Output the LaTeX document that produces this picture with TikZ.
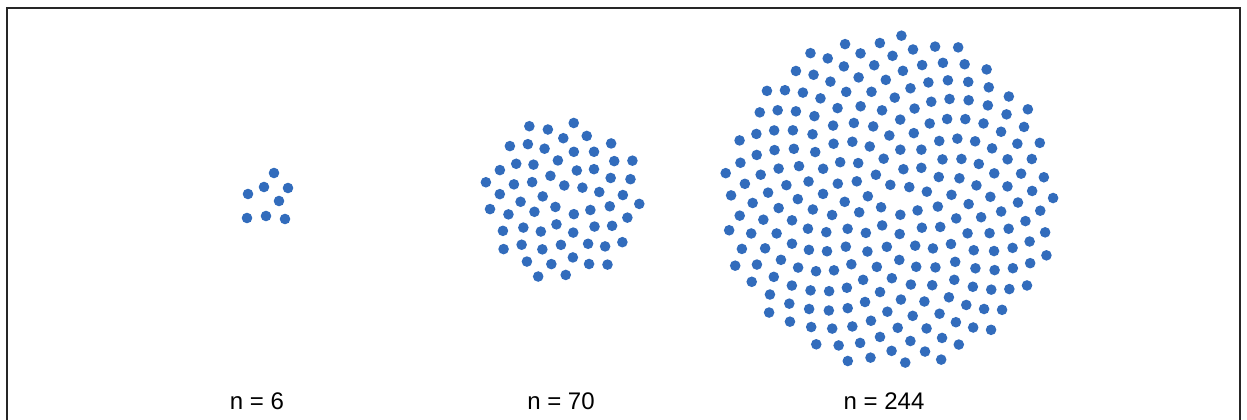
\documentclass[tikz,border=0pt]{standalone}
\usepackage{fontspec}
\setmainfont{Liberation Sans}
\usepackage{tikz}
\usetikzlibrary{calc}
\definecolor{seedblue}{RGB}{50,108,188}
\tikzset{seed/.style={fill=seedblue},
  caption/.style={font=\fontsize{24}{24}\selectfont, inner sep=0pt, anchor=base}}

\begin{document}
\begin{tikzpicture}[x=1pt,y=-1pt]
			\useasboundingbox (0,0) rectangle (1247,420);
			\draw[line width=1.1pt, black!85] (7,420) -- (7,8) -- (1240,8) -- (1240,420);
			% first head
			\foreach \px/\py in {274/173, 264/187, 288/188, 248/194, 279/201, 247/218, 266/216, 285/219}
				\fill[seed] (\px,\py) circle (5.3);
			% second head
			\coordinate (C2) at (563,200);
			\foreach \k in {1,...,62}
				\fill[seed] ($(C2)+({mod(\k,100)*137.50776+int(\k/100)*70.776}:{10.3*sqrt(\k)})$) circle (5.3);
			% third head
			\coordinate (C3) at (889,200);
			\foreach \k in {1,...,244}
				\fill[seed] ($(C3)+({mod(\k,100)*137.50776+int(\k/100)*70.776}:{10.75*sqrt(\k)})$) circle (5.3);
			\node[caption] (n1) at (257,409) {n = 6};
			\node[caption] (n2) at (561,409) {n = 70};
			\node[caption] (n3) at (884,409) {n = 244};
		\end{tikzpicture}
\end{document}
